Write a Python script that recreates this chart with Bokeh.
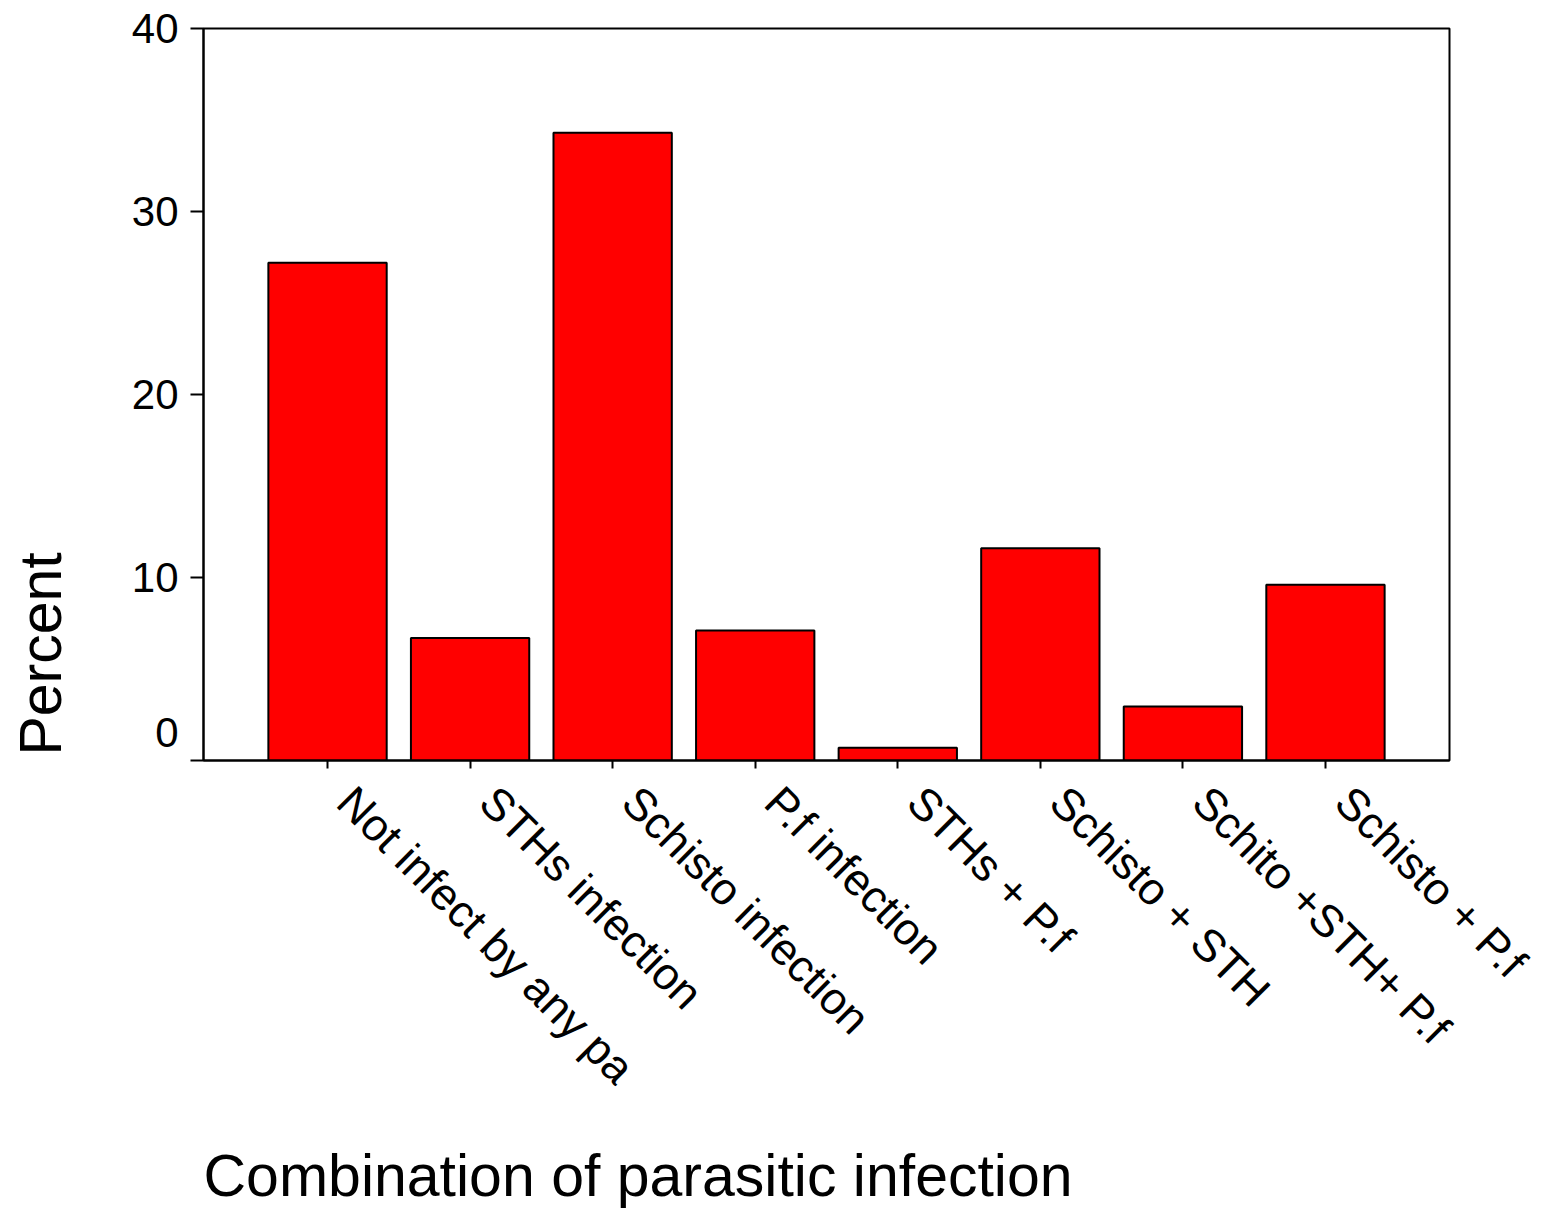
import math
from bokeh.plotting import figure
from bokeh.models import Range1d, FixedTicker, Title
from bokeh.embed import file_html
from bokeh.resources import INLINE

categories = ["Not infect by any pa", "STHs infection", "Schisto infection",
              "P.f infection", "STHs + P.f", "Schisto + STH",
              "Schito +STH+ P.f", "Schisto + P.f"]
percent = [27.2, 6.7, 34.3, 7.1, 0.7, 11.6, 2.95, 9.6]
y_ticks = [0, 10, 20, 30, 40]
x_pos = list(range(1, len(categories) + 1))
x_title = "Combination of parasitic infection"
y_title = "Percent"

FONT = "Liberation Sans"
PAD = "\u00a0\u00a0"

p = figure(frame_width=1246, frame_height=732,
           x_range=Range1d(0.13, 8.87), y_range=Range1d(0, 40),
           output_backend="svg", toolbar_location=None,
           min_border_left=203, min_border_right=89,
           min_border_top=28, min_border_bottom=410)

p.vbar(x=x_pos, top=percent, width=0.83, bottom=0,
       fill_color="#ff0000", line_color="black", line_width=2)

p.grid.visible = False
p.outline_line_color = "black"
p.outline_line_width = 2
p.outline_line_alpha = 1.0
p.background_fill_color = "white"
p.border_fill_color = "white"

# y axis
ya = p.yaxis[0]
ya.ticker = FixedTicker(ticks=y_ticks)
ya.major_label_overrides = {0: "0\n\u00a0"}
ya.minor_tick_line_color = None
ya.major_tick_out = 13
ya.major_tick_in = 0
ya.major_tick_line_width = 2
ya.axis_line_width = 2
ya.major_label_standoff = 12
ya.major_label_text_font = FONT
ya.major_label_text_font_size = "42px"
ya.major_label_text_color = "black"
# label anchored at the bottom of the axis (leading spaces shift it upward)
ya.axis_label = "\u00a0" * 13 + y_title
ya.axis_label_text_font = FONT
ya.axis_label_text_font_size = "59px"
ya.axis_label_text_font_style = "normal"
ya.axis_label_text_color = "black"
ya.axis_label_standoff = 55
ya.axis_label_align = "start"

# x axis
xa = p.xaxis[0]
xa.ticker = FixedTicker(ticks=x_pos)
xa.major_label_overrides = {i: PAD + c for i, c in zip(x_pos, categories)}
xa.minor_tick_line_color = None
xa.major_tick_out = 8
xa.major_tick_in = 0
xa.major_tick_line_width = 2
xa.axis_line_width = 2
xa.major_label_orientation = -math.pi / 4
xa.major_label_standoff = 8
xa.major_label_text_font = FONT
xa.major_label_text_font_size = "45px"
xa.major_label_text_color = "black"

xt = Title(text=x_title, align="left", text_font=FONT, text_font_size="59px",
           text_font_style="normal", text_color="black", standoff=52)
p.add_layout(xt, "below")

open("out.html", "w").write(file_html(p, INLINE))
